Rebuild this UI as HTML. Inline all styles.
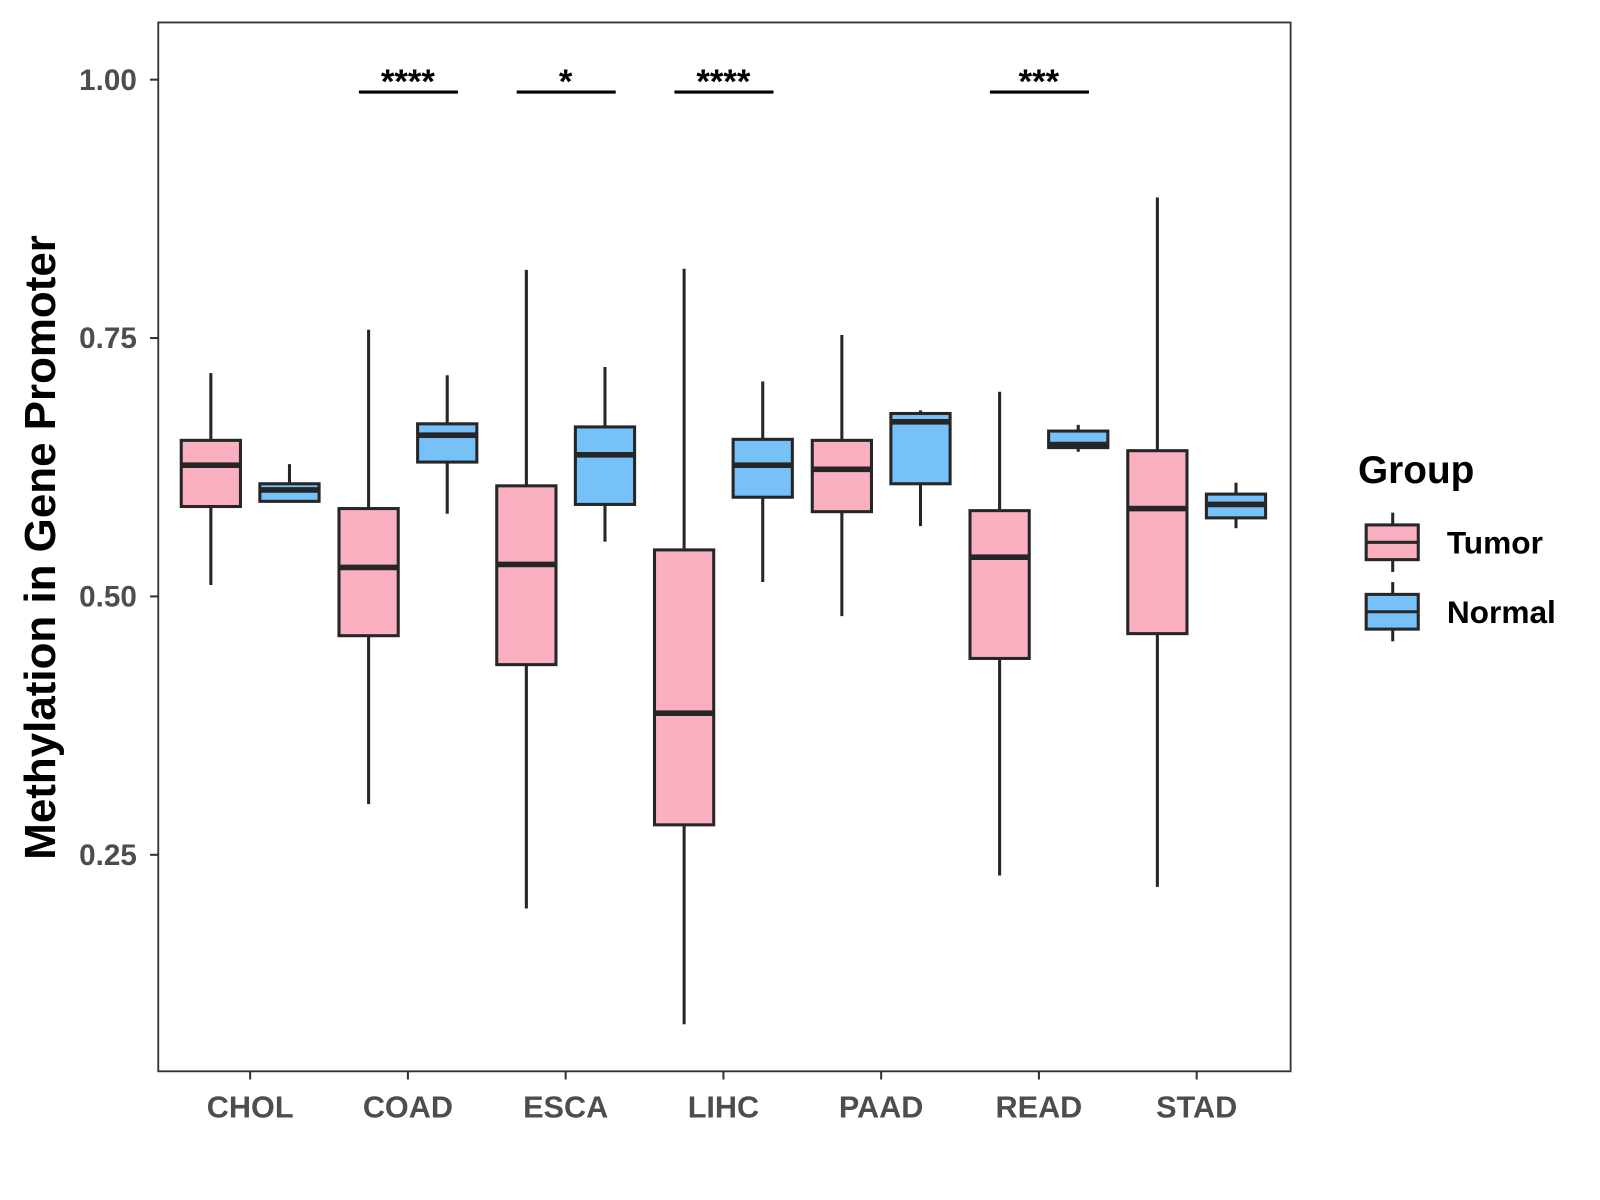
<!DOCTYPE html>
<html><head><meta charset="utf-8"><style>
html,body{margin:0;padding:0;background:#fff;}
svg{display:block;font-family:"Liberation Sans",Arial,sans-serif;}
</style></head><body>
<svg id="chart" width="1600" height="1200" viewBox="0 0 1567 1175" preserveAspectRatio="none" xmlns="http://www.w3.org/2000/svg">
<rect x="0" y="0" width="1567" height="1175" fill="#fff"/>
<g id="plot"></g>
<rect x="155" y="22" width="1109" height="1027" fill="none" stroke="#333" stroke-width="1.8"/>
<text transform="translate(54,536) rotate(-90)" text-anchor="middle" font-size="43" font-weight="bold" fill="#000">Methylation in Gene Promoter</text>
<g>
<text x="1330" y="473" font-size="38" font-weight="bold" fill="#000">Group</text>
<g>
<line x1="1364" y1="502" x2="1364" y2="560" stroke="#262626" stroke-width="3"/>
<rect x="1338" y="514" width="51" height="34" fill="#FBB0C2" stroke="#262626" stroke-width="3"/>
<line x1="1338" y1="531" x2="1389" y2="531" stroke="#262626" stroke-width="3"/>
<text x="1417" y="542" font-size="31" font-weight="bold" fill="#000">Tumor</text>
</g>
<g>
<line x1="1364" y1="570" x2="1364" y2="628" stroke="#262626" stroke-width="3"/>
<rect x="1338" y="582" width="51" height="34" fill="#76C1F8" stroke="#262626" stroke-width="3"/>
<line x1="1338" y1="599" x2="1389" y2="599" stroke="#262626" stroke-width="3"/>
<text x="1417" y="610" font-size="31" font-weight="bold" fill="#000">Normal</text>
</g>
</g>
</svg>
<script>
const categories = ["CHOL","COAD","ESCA","LIHC","PAAD","READ","STAD"];
// [low, q1, median, q3, high]
const tumorStats = [
  [0.511,0.587,0.627,0.651,0.716],
  [0.299,0.462,0.528,0.585,0.758],
  [0.198,0.434,0.531,0.607,0.816],
  [0.086,0.279,0.387,0.545,0.817],
  [0.481,0.582,0.623,0.651,0.753],
  [0.230,0.440,0.538,0.583,0.698],
  [0.219,0.464,0.585,0.641,0.886]
];
const normalStats = [
  [0.592,0.592,0.603,0.609,0.628],
  [0.580,0.630,0.656,0.667,0.714],
  [0.553,0.589,0.637,0.664,0.722],
  [0.514,0.596,0.627,0.652,0.708],
  [0.568,0.609,0.669,0.677,0.680],
  [0.640,0.644,0.647,0.660,0.666],
  [0.566,0.576,0.589,0.599,0.610]
];
const sigLabels = ["","****","*","****","","***",""];
const yTicks = [0.25,0.50,0.75,1.00];
const yTickLabels = ["0.25","0.50","0.75","1.00"];
const sigLevel = 0.988;

const NS="http://www.w3.org/2000/svg";
const g=document.getElementById('plot');
function y(v){return 78+(1-v)*1012;}
function x(i){return 245+i*154.5;}
function mk(tag,attrs,parent){const e=document.createElementNS(NS,tag);for(const k in attrs)e.setAttribute(k,attrs[k]);(parent||g).appendChild(e);return e;}
const colors={tumor:"#FBB0C2",normal:"#76C1F8"};
const bw=58;
function box(cx,s,col,name){
  const grp=mk('g',{});
  
  
  mk('line',{x1:cx,x2:cx,y1:y(s[4]),y2:y(s[3]),stroke:"#262626","stroke-width":3},grp);
  mk('line',{x1:cx,x2:cx,y1:y(s[1]),y2:y(s[0]),stroke:"#262626","stroke-width":3},grp);
  mk('rect',{x:cx-bw/2,y:y(s[3]),width:bw,height:Math.max(y(s[1])-y(s[3]),0.5),fill:col,stroke:"#262626","stroke-width":3},grp);
  mk('line',{x1:cx-bw/2,x2:cx+bw/2,y1:y(s[2]),y2:y(s[2]),stroke:"#262626","stroke-width":5.5},grp);
}
categories.forEach((c,i)=>{
  box(x(i)-38.5,tumorStats[i],colors.tumor,'box-tumor-'+c.toLowerCase());
  box(x(i)+38.5,normalStats[i],colors.normal,'box-normal-'+c.toLowerCase());
  const t=mk('line',{x1:x(i),x2:x(i),y1:1049,y2:1057,stroke:"#333","stroke-width":2});
  
  
  const l=mk('text',{x:x(i),y:1094,"text-anchor":"middle","font-size":30,"font-weight":"bold",fill:"#4D4D4D"});
  l.textContent=c;
  
  
  if(sigLabels[i]){
    const b=mk('line',{x1:x(i)-48,x2:x(i)+49,y1:y(sigLevel),y2:y(sigLevel),stroke:"#000","stroke-width":3});
    
    
    const st=mk('text',{x:x(i),y:y(sigLevel)+1,"text-anchor":"middle","font-size":34,"font-weight":"bold",fill:"#000"});
    st.textContent=sigLabels[i];
    
    
  }
});
yTicks.forEach((v,i)=>{
  const t=mk('line',{x1:147,x2:155,y1:y(v),y2:y(v),stroke:"#333","stroke-width":2});
  
  
  const l=mk('text',{x:134,y:y(v)+10,"text-anchor":"end","font-size":29,"font-weight":"bold",fill:"#4D4D4D"});
  l.textContent=yTickLabels[i];
  
  
});
</script>
</body></html>
